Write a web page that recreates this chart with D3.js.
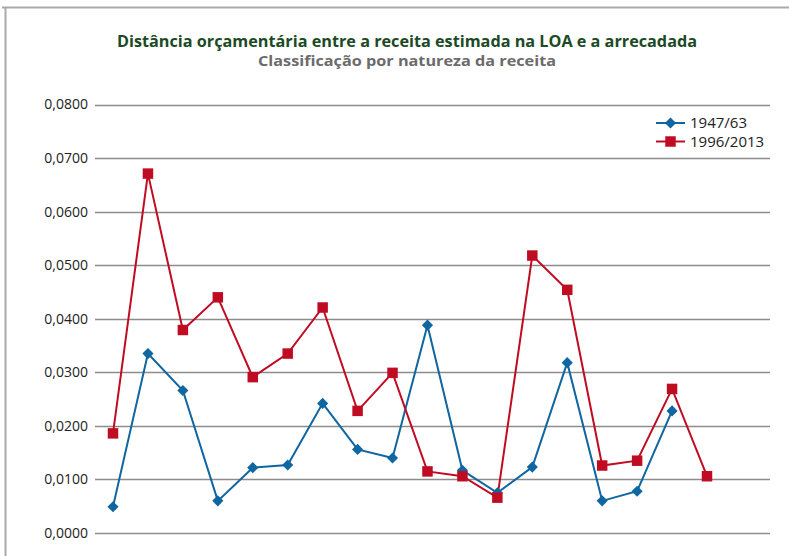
<!DOCTYPE html>
<html lang="pt">
<head>
  <meta charset="UTF-8">
  <title>Distância orçamentária</title>
  <script src="https://d3js.org/d3.v7.min.js"></script>
  <style>
    body { margin: 0; background: #fff; }
    svg { display: block; font-family: "Open Sans", sans-serif; }
  </style>
</head>
<body>
  <svg width="789" height="556"></svg>

  <script>
    // dados
    const categorias = d3.range(1, 19).map(String);
    const serie1947 = [0.0049, 0.0335, 0.0266, 0.0060, 0.0122, 0.0127, 0.0242, 0.0156, 0.0140,
                       0.0388, 0.0117, 0.0075, 0.0123, 0.0318, 0.0060, 0.0078, 0.0228, null];
    const serie1996 = [0.0186, 0.0671, 0.0379, 0.0440, 0.0291, 0.0335, 0.0421, 0.0228, 0.0299,
                       0.0115, 0.0106, 0.0066, 0.0518, 0.0454, 0.0126, 0.0135, 0.0269, 0.0106];
    const yTicks = [0, 0.01, 0.02, 0.03, 0.04, 0.05, 0.06, 0.07, 0.08];
    const nomes = ["1947/63", "1996/2013"];

    const svg = d3.select("svg");

    // moldura
    svg.append("line").attr("x1", 2).attr("x2", 789).attr("y1", 7.5).attr("y2", 7.5)
      .attr("stroke", "#aaa").attr("stroke-width", 2);
    svg.append("line").attr("x1", 5.5).attr("x2", 5.5).attr("y1", 7).attr("y2", 556)
      .attr("stroke", "#aaa").attr("stroke-width", 2);

    // títulos
    svg.append("text")
      .attr("x", 407).attr("y", 47)
      .attr("text-anchor", "middle")
      .attr("font-size", 16).attr("font-weight", "bold")
      .attr("fill", "#1b4a25")
      .attr("textLength", 580).attr("lengthAdjust", "spacingAndGlyphs")
      .text("Distância orçamentária entre a receita estimada na LOA e a arrecadada");
    svg.append("text")
      .attr("x", 407).attr("y", 66)
      .attr("text-anchor", "middle")
      .attr("font-size", 15).attr("font-weight", "bold")
      .attr("fill", "#6b6b6b")
      .attr("textLength", 298).attr("lengthAdjust", "spacingAndGlyphs")
      .text("Classificação por natureza da receita");

    const x = d3.scalePoint().domain(categorias).range([113, 707]);
    const y = d3.scaleLinear().domain([0, 0.08]).range([533, 104.5]);

    // grade e eixo y
    const grid = svg.append("g");
    grid.selectAll("line").data(yTicks).join("line")
      .attr("x1", 95).attr("x2", 770)
      .attr("y1", d => Math.round(y(d)) + 0.5).attr("y2", d => Math.round(y(d)) + 0.5)
      .attr("stroke", "#8c8c8c").attr("stroke-width", 1.3);

    const fmt = d => d3.format(".4f")(d).replace(".", ",");
    svg.append("g")
      .attr("transform", "translate(88,0)")
      .call(d3.axisLeft(y).tickValues(yTicks).tickFormat(fmt).tickSize(0).tickPadding(0))
      .call(g => g.select(".domain").remove())
      .call(g => g.selectAll("text")
        .attr("font-family", "Open Sans, sans-serif")
        .attr("font-size", 14).attr("fill", "#222"));

    const cores = ["#0f66a0", "#c00c22"];
    const series = [serie1947, serie1996];
    const line = d3.line()
      .defined(d => d[1] != null)
      .x(d => x(d[0]))
      .y(d => y(d[1]));

    series.forEach((s, i) => {
      const pts = categorias.map((c, j) => [c, s[j]]);
      svg.append("path")
        .datum(pts)
        .attr("fill", "none")
        .attr("stroke", cores[i])
        .attr("stroke-width", 2)
        .attr("d", line);
    });

    // marcadores: losango = quadrado girado 45°
    const tam = [62, 110];
    const rot = [45, 0];
    const marcador = d3.symbol().type(d3.symbolSquare);
    series.forEach((s, i) => {
      const pts = categorias.map((c, j) => [c, s[j]]).filter(d => d[1] != null);
      svg.append("g").selectAll("path").data(pts).join("path")
        .attr("transform", d => `translate(${x(d[0])},${y(d[1])}) rotate(${rot[i]})`)
        .attr("d", marcador.size(tam[i])())
        .attr("fill", cores[i]);
    });

    // legenda
    const leg = svg.append("g").attr("transform", "translate(656,0)");
    nomes.forEach((n, i) => {
      const yy = 123 + i * 18.5;
      leg.append("line").attr("x1", 0).attr("x2", 29).attr("y1", yy).attr("y2", yy)
        .attr("stroke", cores[i]).attr("stroke-width", 2);
      leg.append("path")
        .attr("transform", `translate(14.5,${yy}) rotate(${rot[i]})`)
        .attr("d", marcador.size(tam[i])())
        .attr("fill", cores[i]);
      leg.append("text")
        .attr("x", 34).attr("y", yy).attr("dy", "0.35em")
        .attr("font-size", 15).attr("fill", "#222")
        .text(n);
    });
  </script>
</body>
</html>
